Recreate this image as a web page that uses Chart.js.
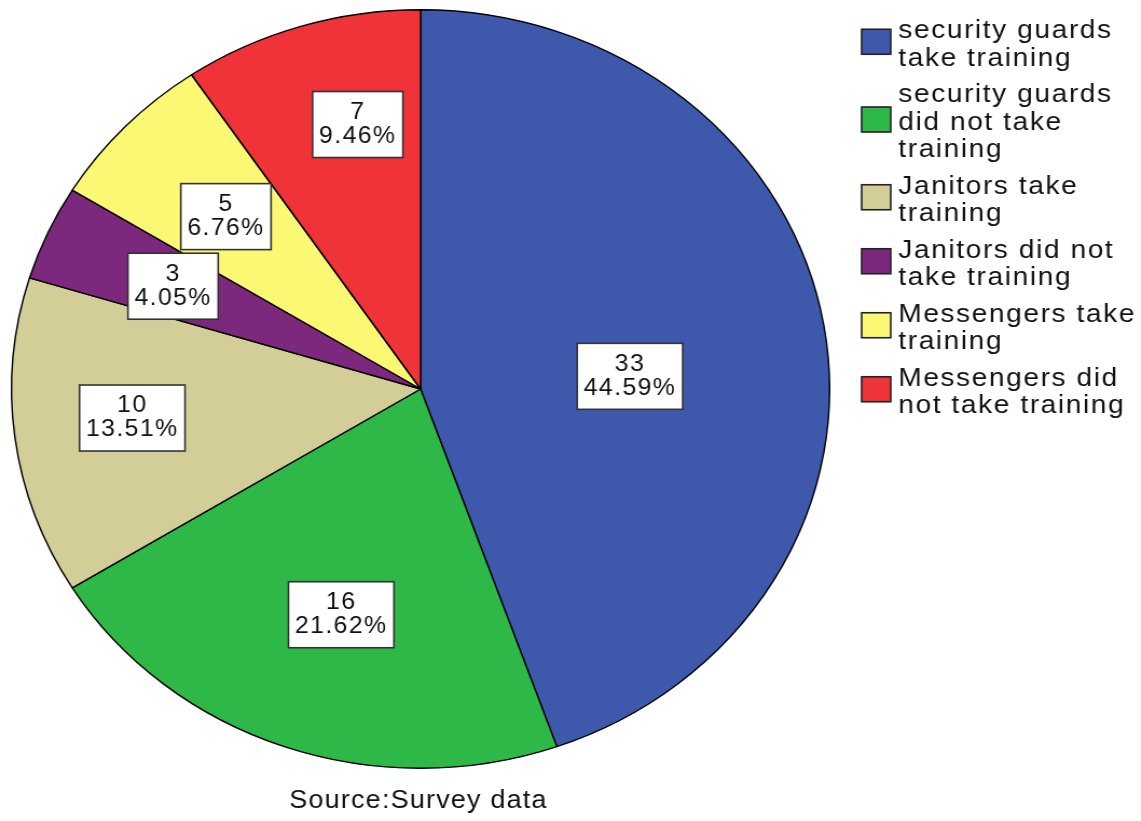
<!DOCTYPE html>
<html>
<head>
<meta charset="utf-8">
<script src="https://cdn.jsdelivr.net/npm/chart.js@4.4.1/dist/chart.umd.min.js"></script>
<style>
  html, body { margin: 0; padding: 0; background: #fff; overflow: hidden; }
  #wrap { position: absolute; left: 0; top: 0; width: 1058px; height: 821px; transform-origin: 0 0; transform: scaleX(1.0784); }
</style>
</head>
<body>
<div id="wrap"><canvas id="pie"></canvas></div>
<script>
const categories = [
    ['security guards', 'take training'],
    ['security guards', 'did not take', 'training'],
    ['Janitors take', 'training'],
    ['Janitors did not', 'take training'],
    ['Messengers take', 'training'],
    ['Messengers did', 'not take training']
];
const counts = [33, 16, 10, 3, 5, 7];
const sliceColors = ['#3E58AC', '#2EB848', '#D3CE97', '#7C287D', '#FBF873', '#EF3338'];
const sourceNote = 'Source:Survey data';

const FONT = "'Liberation Sans', Arial, sans-serif";

// where each count/percent box sits: shift from the slice's mid angle (deg) and share of the radius
const labelNudge = [6, -1.4, 1.1, -0.2, -0.1, 4.6];
const labelFrac = [0.513, 0.626, 0.709, 0.663, 0.658, 0.714];

const sliceLabels = {
    id: 'sliceLabels',
    afterDatasetsDraw(chart) {
        const ctx = chart.ctx;
        const meta = chart.getDatasetMeta(0);
        const total = counts.reduce((a, b) => a + b, 0);
        ctx.save();
        ctx.font = `23px ${FONT}`;
        ctx.letterSpacing = '1.3px';
        ctx.textAlign = 'center';
        ctx.textBaseline = 'middle';
        meta.data.forEach((arc, i) => {
            const p = arc.getProps(['x', 'y', 'startAngle', 'endAngle', 'outerRadius'], true);
            const mid = (p.startAngle + p.endAngle) / 2 + labelNudge[i] * Math.PI / 180;
            const r = p.outerRadius * labelFrac[i];
            const cx = p.x + Math.cos(mid) * r;
            const cy = p.y + Math.sin(mid) * r;
            const lines = [String(counts[i]), (counts[i] / total * 100).toFixed(2) + '%'];
            const w = Math.max(...lines.map(t => ctx.measureText(t).width)) + 12;
            const h = 66;
            ctx.fillStyle = '#fff';
            ctx.fillRect(cx - w / 2, cy - h / 2, w, h);
            ctx.strokeStyle = '#333';
            ctx.lineWidth = 1.6;
            ctx.strokeRect(cx - w / 2, cy - h / 2, w, h);
            ctx.fillStyle = '#111';
            ctx.fillText(lines[0], cx, cy - 12);
            ctx.fillText(lines[1], cx, cy + 12);
        });
        ctx.restore();
    }
};

const sideLegend = {
    id: 'sideLegend',
    afterDraw(chart) {
        const ctx = chart.ctx;
        ctx.save();
        ctx.font = `26px ${FONT}`;
        ctx.letterSpacing = '1.5px';
        ctx.textAlign = 'left';
        ctx.textBaseline = 'middle';
        let y = 31;
        categories.forEach((lines, i) => {
            const first = y;
            lines.forEach((t, k) => {
                ctx.fillStyle = '#111';
                ctx.fillText(t, 833, y);
                if (k < lines.length - 1) y += 27.5;
            });
            const boxMid = (first + y) / 2 - 3;
            ctx.fillStyle = sliceColors[i];
            ctx.fillRect(799, boxMid - 12.5, 27, 25);
            ctx.strokeStyle = '#222';
            ctx.lineWidth = 1.6;
            ctx.strokeRect(799, boxMid - 12.5, 27, 25);
            y += 36.5;
        });

        ctx.font = `25px ${FONT}`;
        ctx.letterSpacing = '1.1px';
        ctx.textAlign = 'center';
        ctx.fillStyle = '#111';
        ctx.fillText(sourceNote, 388, 801);
        ctx.restore();
    }
};

new Chart(document.getElementById('pie'), {
    type: 'pie',
    data: {
        labels: categories,
        datasets: [{
            data: counts,
            backgroundColor: sliceColors,
            borderColor: '#000',
            borderWidth: 1.4
        }]
    },
    options: {
        responsive: true,
        maintainAspectRatio: false,
        animation: false,
        layout: { padding: { left: 10, top: 9, right: 288, bottom: 52 } },
        plugins: {
            legend: { display: false },
            tooltip: { enabled: false }
        }
    },
    plugins: [sliceLabels, sideLegend]
});
</script>
</body>
</html>
